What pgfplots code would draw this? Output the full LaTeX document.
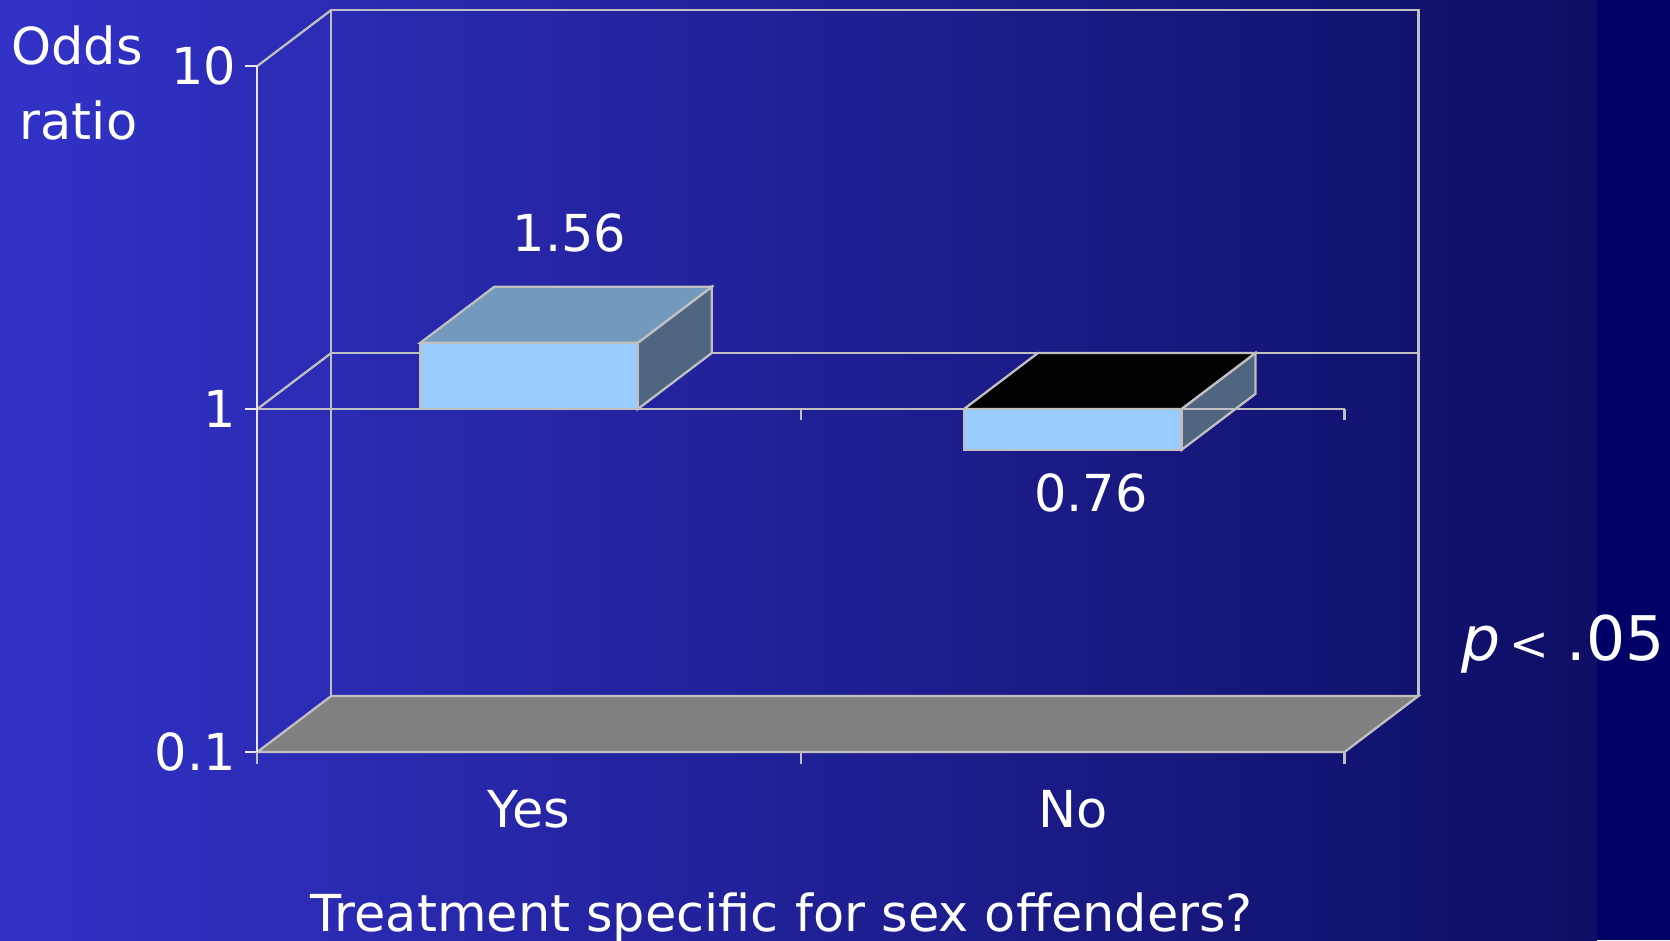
\documentclass[border=0pt]{standalone}
\usepackage{fontspec}
\setmainfont{DejaVu Sans}
\usepackage{pgfplots}
\pgfplotsset{compat=1.18}

\definecolor{bgleft}{RGB}{50,50,200}
\definecolor{bgright}{RGB}{14,14,100}
\definecolor{navy}{RGB}{0,0,102}
\definecolor{edge}{RGB}{192,192,192}
\definecolor{axfront}{RGB}{232,232,238}
\definecolor{barfront}{RGB}{153,204,255}
\definecolor{bartop}{RGB}{115,154,189}
\definecolor{barside}{RGB}{80,102,128}
\definecolor{floorgray}{RGB}{128,128,128}

\newcommand\lbl{\fontsize{14.5}{17}\selectfont}

\begin{document}
\begin{tikzpicture}
% page: 1 px of the reference = 0.1 mm
\useasboundingbox (0,0) rectangle (167mm,94mm);
\shade[left color=bgleft, right color=bgright] (0,0) rectangle (159.7mm,94mm);
\fill[navy] (159.7mm,0) rectangle (167mm,94mm);

\begin{axis}[
  at={(25.73mm,18.8mm)}, anchor=south west,
  scale only axis,
  width=116.12mm, height=74.2mm,
  xmin=0, xmax=2.1361,
  ymin=0.1, ymax=14.57,
  ymode=log, log basis y=10,
  axis lines*=left,
  axis line style={draw=none},
  clip=false,
  ytick={0.1,1,10},
  yticklabels={0.1,1,10},
  xtick={0.5,1.5},
  xticklabels={Yes,No},
  minor xtick={0,1,2},
  tick align=outside,
  major tick length=1.2mm,
  minor tick length=1.2mm,
  major x tick style={draw=none},
  minor x tick style={draw=edge, line width=0.65pt},
  major y tick style={draw=axfront, line width=0.65pt},
  minor y tick style={draw=none},
  every tick label/.append style={font=\lbl, text=white},
  xticklabel style={yshift=-1.4mm},
  yticklabel style={xshift=0.3mm},
  every axis plot/.append style={line width=0.65pt, mark=none},
]

% back wall and left wall edges
\addplot[draw=edge] coordinates {(0.1361,0.1457) (0.1361,14.57) (2.1361,14.57) (2.1361,0.1457)};
\addplot[draw=edge] coordinates {(0,10) (0.1361,14.57)};

% floor
\addplot[draw=edge, fill=floorgray] coordinates {(0,0.1) (2,0.1) (2.1361,0.1457) (0.1361,0.1457)} -- cycle;

% gridline at 1
\addplot[draw=edge] coordinates {(0,1) (0.1361,1.457)};
\addplot[draw=edge] coordinates {(0.1361,1.457) (2.1361,1.457)};

% Yes: 1.56
\addplot[draw=edge, fill=barside] coordinates {(0.7,1) (0.8361,1.457) (0.8361,2.273) (0.7,1.56)} -- cycle;
\addplot[draw=edge, fill=bartop] coordinates {(0.3,1.56) (0.7,1.56) (0.8361,2.273) (0.4361,2.273)} -- cycle;
\addplot[draw=edge, fill=barfront] coordinates {(0.3,1) (0.7,1) (0.7,1.56) (0.3,1.56)} -- cycle;

% No: 0.76
\addplot[draw=edge, fill=barside] coordinates {(1.7,0.76) (1.8361,1.107) (1.8361,1.457) (1.7,1)} -- cycle;
\addplot[draw=edge, fill=black] coordinates {(1.3,1) (1.7,1) (1.8361,1.457) (1.4361,1.457)} -- cycle;
\addplot[draw=edge, fill=barfront] coordinates {(1.3,0.76) (1.7,0.76) (1.7,1) (1.3,1)} -- cycle;

% category axis at 1
\addplot[draw=edge] coordinates {(0,1) (2,1)};
\addplot[draw=edge] coordinates {(0,1) (0,0.929)};
\addplot[draw=edge] coordinates {(1,1) (1,0.929)};
\addplot[draw=edge] coordinates {(2,1) (2,0.929)};

% front value axis
\addplot[draw=axfront] coordinates {(0,0.1) (0,10)};

\node[anchor=base, text=white, font=\lbl] at (axis cs:0.5743,2.888) {1.56};
\node[anchor=base, text=white, font=\lbl] at (axis cs:1.5337,0.5043) {0.76};
\end{axis}

\node[anchor=base, text=white, font=\lbl] at (7.7mm,87.5mm) {Odds};
\node[anchor=base, text=white, font=\lbl] at (7.85mm,80mm) {ratio};
\node[anchor=base, text=white, font=\lbl] at (78.2mm,0.9mm) {Treatment specific for sex offenders?};
\node[anchor=base west, text=white, inner sep=0pt, font=\fontsize{17.5}{20}\selectfont]
  at (146.1mm,27.93mm) {\textit{p}\hspace{0.15em}{\fontsize{13.5}{13.5}\selectfont<}\hspace{0.28em}.05};
\end{tikzpicture}
\end{document}
